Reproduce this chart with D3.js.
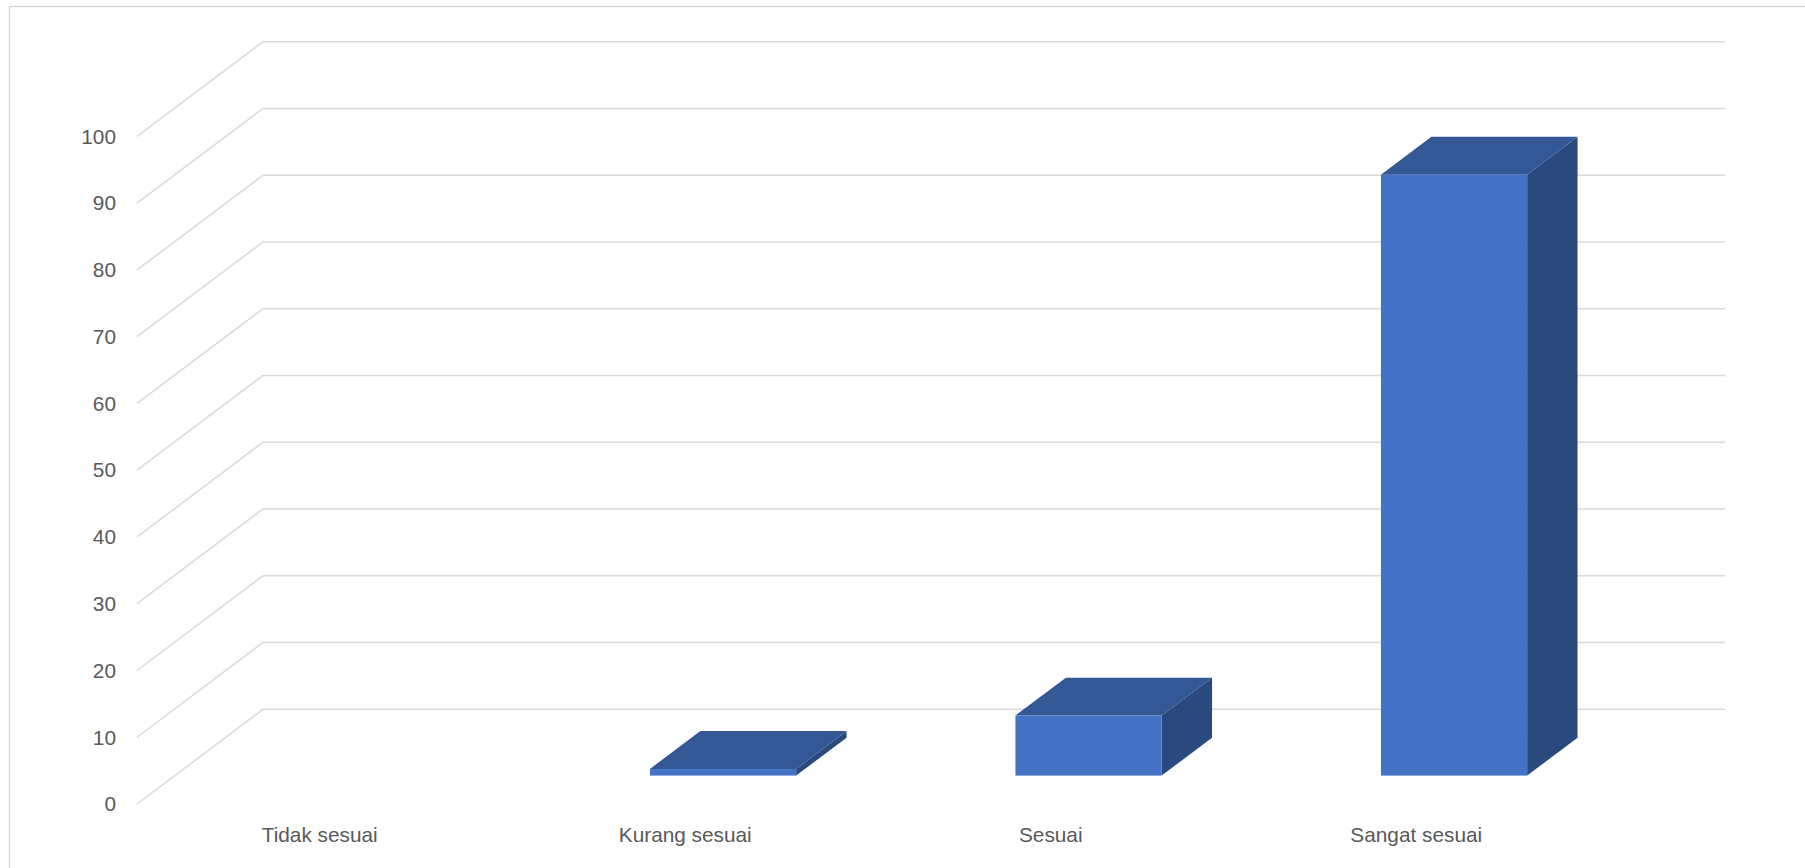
<!DOCTYPE html>
<html>
<head>
<meta charset="utf-8">
<script src="https://cdn.jsdelivr.net/npm/d3@7"></script>
<style>
  html, body { margin: 0; padding: 0; background: #fff; }
  svg { display: block; }
</style>
</head>
<body>
<svg id="chart" width="1805" height="868"></svg>
<script>
const categories = ["Tidak sesuai", "Kurang sesuai", "Sesuai", "Sangat sesuai"];
const values = [0, 1, 9, 90];
const yTicks = [0, 10, 20, 30, 40, 50, 60, 70, 80, 90, 100];

const W = 1805, H = 868;
const svg = d3.select("#chart");

// chart border
svg.append("rect")
  .attr("x", 9.5).attr("y", 6.5)
  .attr("width", W).attr("height", H)
  .attr("fill", "#fff").attr("stroke", "#d9d9d9").attr("stroke-width", 1.5);

// front plane geometry and depth offset (oblique projection)
const depth = { dx: 126, dy: -94.7 };
const x = d3.scaleBand().domain(categories).range([137, 1599])
  .paddingInner(0.6).paddingOuter(0.3);
const y = d3.scaleLinear().domain([0, 100]).range([804, 136.4]);
const backRight = x.range()[1] + depth.dx;
const xStart = x.range()[0];

// gridlines: diagonal on left wall + horizontal on back wall
const grid = svg.append("g").attr("fill", "none").attr("stroke", "#d9d9d9").attr("stroke-width", 1.5);
yTicks.forEach(t => {
  const yf = y(t);
  grid.append("path")
    .attr("d", `M${xStart},${yf} L${xStart + depth.dx},${yf + depth.dy} L${backRight},${yf + depth.dy}`);
});

// y axis labels
svg.append("g").selectAll("text").data(yTicks).join("text")
  .attr("x", 116).attr("y", d => y(d))
  .attr("dy", "0.35em")
  .attr("text-anchor", "end")
  .attr("fill", "#595959")
  .style("font-family", "'Liberation Sans', Arial, sans-serif")
  .style("font-size", "20.8px")
  .text(d => d);

// category labels
svg.append("g").selectAll("text").data(categories).join("text")
  .attr("x", d => x(d) + x.bandwidth() / 2)
  .attr("y", 842)
  .attr("text-anchor", "middle")
  .attr("fill", "#595959")
  .style("font-family", "'Liberation Sans', Arial, sans-serif")
  .style("font-size", "20.8px")
  .text(d => d);

// 3D bars
const dFront = 0.3, dBack = 0.7;
const bars = svg.append("g");
categories.forEach((c, i) => {
  const v = values[i];
  if (v <= 0) return;
  const x0 = x(c) + dFront * depth.dx;
  const x1 = x0 + x.bandwidth();
  const yb = y(0) + dFront * depth.dy;
  const yt = y(v) + dFront * depth.dy;
  const ox = (dBack - dFront) * depth.dx;
  const oy = (dBack - dFront) * depth.dy;
  const g = bars.append("g");
  // side face
  g.append("path")
    .attr("d", `M${x1},${yb} L${x1 + ox},${yb + oy} L${x1 + ox},${yt + oy} L${x1},${yt} Z`)
    .attr("fill", "#2a4a7f");
  // top face
  g.append("path")
    .attr("d", `M${x0},${yt} L${x0 + ox},${yt + oy} L${x1 + ox},${yt + oy} L${x1},${yt} Z`)
    .attr("fill", "#335895");
  // front face
  g.append("rect")
    .attr("x", x0).attr("y", yt)
    .attr("width", x1 - x0).attr("height", yb - yt)
    .attr("fill", "#4472c4");
});
</script>
</body>
</html>
